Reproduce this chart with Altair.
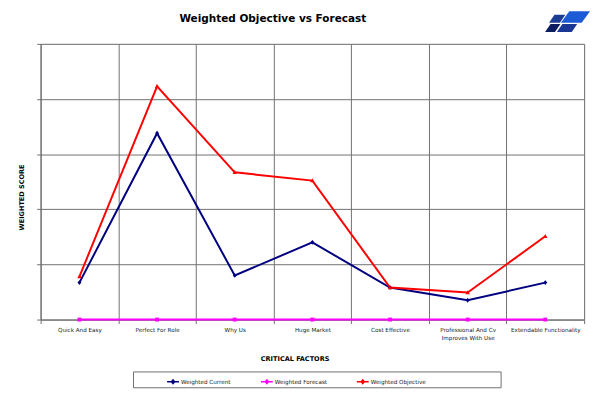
import altair as alt
import pandas as pd

categories = ["Quick And Easy", "Perfect For Role", "Why Us", "Huge Market",
              "Cost Effective", "Professional And Cv Improves With Use",
              "Extendable Functionality"]
weighted_current = [0.67, 3.38, 0.80, 1.40, 0.58, 0.35, 0.67]
weighted_forecast = [0, 0, 0, 0, 0, 0, 0]
weighted_objective = [0.78, 4.23, 2.67, 2.52, 0.58, 0.49, 1.51]
series_names = ["Weighted Current", "Weighted Forecast", "Weighted Objective"]
series_colors = ["#000080", "#FF00FF", "#FF0000"]
y_ticks = [0, 1, 2, 3, 4, 5]
chart_title = "Weighted Objective vs Forecast"

rows = []
for name, vals in zip(series_names, [weighted_current, weighted_forecast, weighted_objective]):
    for c, v in zip(categories, vals):
        rows.append({"factor": c, "series": name, "value": v})
df = pd.DataFrame(rows)

marker_paths = {
    "Weighted Current": "M0,-1L0.8,0L0,1L-0.8,0Z",
    "Weighted Forecast": "M-0.8,-0.8L0.8,-0.8L0.8,0.8L-0.8,0.8Z",
    "Weighted Objective": "M0,-1L0.9,0.7L-0.9,0.7Z",
}

FONT = "DejaVu Sans"
W, H = 550, 279

color_scale = alt.Scale(domain=series_names, range=series_colors)

x_enc = alt.X("factor:N", sort=categories, scale=alt.Scale(paddingInner=0, paddingOuter=0),
              axis=alt.Axis(title="CRITICAL FACTORS", tickBand="extent", grid=True,
                            gridColor="#707070", gridOpacity=1, gridWidth=1,
                            domainColor="#707070", tickColor="#707070", tickSize=4,
                            labelAngle=0, labelFont=FONT, labelFontSize=5.7, labelColor="#222",
                            labelPadding=3, labelLimit=200,
                            labelExpr="datum.label == 'Professional And Cv Improves With Use' ? ['Professional And Cv', 'Improves With Use'] : datum.label",
                            labelLineHeight=8.5,
                            titleFont=FONT, titleFontSize=6.6, titleFontWeight="bold", titleColor="#000",
                            titleX=257, titleY=36))
y_enc = alt.Y("value:Q", scale=alt.Scale(domain=[0, 5], nice=False),
              axis=alt.Axis(title="WEIGHTED SCORE", values=y_ticks, labels=False, grid=True,
                            gridColor="#707070", gridOpacity=1, gridWidth=1,
                            domainColor="#707070", tickColor="#707070", tickSize=4,
                            titleFont=FONT, titleFontSize=6.6, titleFontWeight="bold", titleColor="#000",
                            titleX=-16, titleY=155))

legend = alt.Legend(title=None, orient="none", legendX=127, legendY=335, direction="horizontal",
                    labelFont=FONT, labelFontSize=5.7, labelColor="#222", columnPadding=26,
                    symbolType="M-1,0L1,0M0,-0.3L0.25,0L0,0.3L-0.25,0Z",
                    symbolSize=144, symbolStrokeWidth=1.6, labelOffset=1, zindex=2)

# Frame behind the legend (decoration)
frame = alt.Chart(pd.DataFrame({"a": [0]})).mark_rect(
    fill="white", stroke="#707070", strokeWidth=1, clip=False
).encode(x=alt.value(94), x2=alt.value(466), y=alt.value(332), y2=alt.value(348))

lines = alt.Chart(df).mark_line(strokeWidth=2).encode(
    x=x_enc, y=y_enc,
    color=alt.Color("series:N", scale=color_scale, sort=series_names, legend=legend),
)

point_layers = []
for name in series_names:
    point_layers.append(
        alt.Chart(df).transform_filter(alt.datum.series == name)
        .mark_point(filled=True, size=24, opacity=1, shape=marker_paths[name])
        .encode(x=alt.X("factor:N", sort=categories), y="value:Q",
                color=alt.Color("series:N", scale=color_scale, legend=None))
    )

# Chart title as text
title_layer = alt.Chart(pd.DataFrame({"t": [chart_title]})).mark_text(
    font=FONT, fontSize=10.6, fontWeight="bold", color="#000", align="center", baseline="alphabetic"
).encode(x=alt.value(235), y=alt.value(-22), text="t:N")

# Top-right logo (decoration), fitted below the page margin
logo_colors = ["#1d5bd6", "#1b3c93", "#0b1d5e", "#1a3796"]
cx, cy, s = 575.0, 19.5, 22.0
def fy(y):
    return 9 + (y - 1) * (21.0 / 29.0)
def poly(pts):
    return "M" + "L".join("%.3f,%.3f" % ((px - cx) / s, (fy(py) - cy) / s) for px, py in pts) + "Z"
logo_shapes = [
    poly([(576, 1), (597, 1), (588.5, 17), (567.5, 17)]),
    poly([(561, 6), (572, 6), (566.5, 17), (555.5, 17)]),
    poly([(557, 19), (567, 19), (561.5, 30), (551.5, 30)]),
    poly([(569, 19), (584, 19), (578.5, 30), (563.5, 30)]),
]
logo_layers = []
for shp, col in zip(logo_shapes, logo_colors):
    logo_layers.append(
        alt.Chart(pd.DataFrame({"a": [0]})).mark_point(
            filled=True, opacity=1, size=(2 * s) ** 2, strokeWidth=0, shape=shp, fill=col
        ).encode(x=alt.value(cx - 41), y=alt.value(cy - 42))
    )

chart = alt.layer(frame, lines, *point_layers, title_layer, *logo_layers).properties(
    width=W, height=H,
    autosize=alt.AutoSizeParams(type="none"),
    padding={"left": 33, "top": 34, "right": 10, "bottom": 70},
).configure_view(stroke="#c0c0c0", strokeWidth=1).configure(background="white")

chart.save("out.html", embed_options={"renderer": "svg", "actions": False})
